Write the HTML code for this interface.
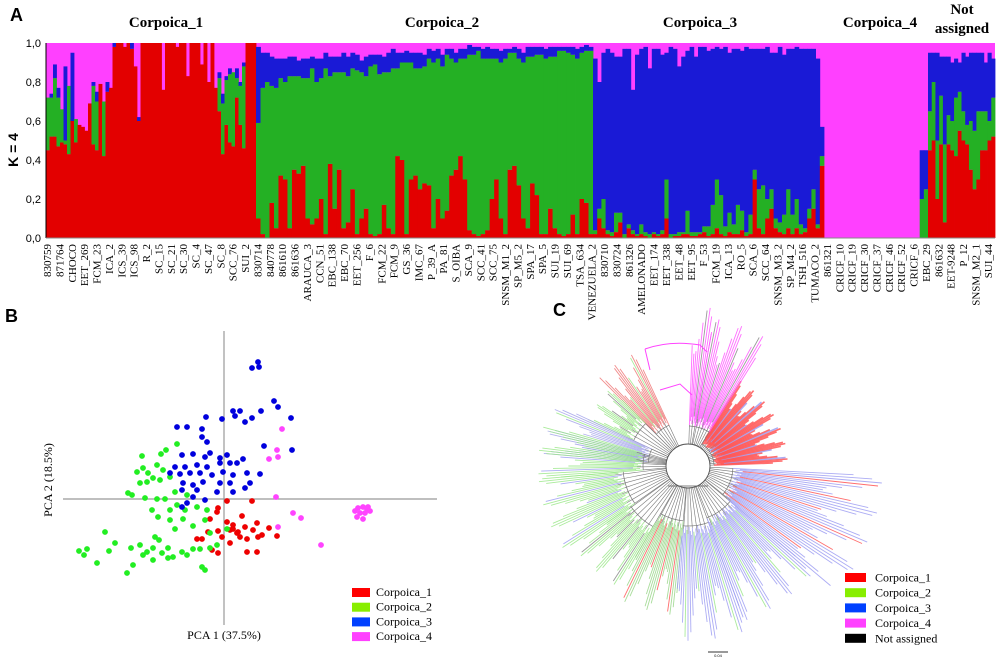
<!DOCTYPE html>
<html><head><meta charset="utf-8"><style>
html,body{margin:0;padding:0;background:#fff;width:1000px;height:662px;overflow:hidden}
svg{display:block}
</style></head><body>
<svg id="fig" width="1000" height="662" viewBox="0 0 1000 662" xmlns="http://www.w3.org/2000/svg">
<g id="panelA"></g>
<g id="panelB"></g>
<g id="panelC"></g>
</svg>
<script>
const NS='http://www.w3.org/2000/svg';
function mk(parent,tag,attrs,text){const e=document.createElementNS(NS,tag);for(const k in attrs)e.setAttribute(k,attrs[k]);if(text!==undefined)e.textContent=text;parent.appendChild(e);return e;}

/* ===== Panel A data ===== */
const groupNames=['Corpoica_1','Corpoica_2','Corpoica_3','Corpoica_4','Not assigned'];
const red1=[.45,.52,.52,.47,.49,.48,.43,.6,.49,.58,.57,.55,.69,.48,.45,.79,.42,.75,.77,.98,1,1,.98,1,.97,.88,.6,1,1,1,1,1,1,.76,1,1,1,.98,1,1,.83,1,1,1,.89,1,.8,1,.77,.65,.43,.58,.49,.47,.72,.58,.46,1,1,1];
const green1=[.27,.2,.3,.25,.17,.02,.35,.0,.12,.0,.0,.0,.0,.3,.25,.0,.28,.0,.0,.0,0,0,0,0,0,0,0,0,0,0,0,0,0,0,0,0,0,0,0,0,0,0,0,0,0,0,0,0,0,.17,.26,.23,.35,.38,.1,.2,.42,0,0,0];
const blue1=[0,.02,.07,.05,0,.38,0,.35,0,0,0,0,0,.02,.05,0,0,.05,0,.02,0,0,0,0,.03,0,.02,0,0,0,0,0,0,0,0,0,0,0,0,0,0,0,0,0,0,0,0,0,0,.03,.05,.02,.03,.0,.05,.02,.02,0,0,0];
const red2=[.1,.02,0,.18,.05,.32,.3,.05,.35,.33,.37,.1,.07,.1,.2,.02,.38,.15,.35,.05,.08,.25,.02,.1,.15,.02,.01,.02,.17,.05,.02,.42,.4,.02,.3,.32,.25,.28,.27,.05,.2,.1,.14,.32,.35,.42,.3,.04,.02,.01,.02,.04,.2,.3,.1,.02,.35,.37,.27,.1,.05,.28,.22,.02,.02,.15,.05,.02,.01,.02,.12,.02,.2,.18,.02];
const green2=[.49,.75,.8,.6,.72,.5,.5,.78,.48,.5,.45,.72,.8,.7,.62,.85,.45,.7,.5,.8,.75,.62,.84,.75,.68,.86,.88,.82,.68,.8,.85,.45,.5,.88,.6,.55,.62,.6,.65,.85,.72,.78,.8,.6,.55,.5,.62,.9,.92,.95,.9,.88,.72,.62,.8,.9,.6,.58,.65,.8,.88,.65,.72,.92,.9,.78,.88,.94,.95,.93,.82,.9,.75,.78,.94];
const blue2=[.39,.18,.15,.15,.15,.1,.12,.1,.1,.08,.1,.1,.06,.12,.1,.08,.1,.08,.08,.1,.1,.08,.08,.06,.1,.06,.05,.1,.08,.1,.1,.08,.05,.06,.05,.08,.08,.06,.05,.06,.05,.06,.03,.05,.05,.05,.05,.05,.04,.02,.05,.06,.05,.05,.06,.05,.02,.03,.05,.05,.05,.05,.04,.04,.05,.05,.05,.02,.02,.03,.04,.05,.03,.03,.02];
const red3=[.02,.1,.05,.02,.01,.03,.08,0,.05,.02,.01,.02,.01,0,.02,.01,.02,.1,0,.01,.01,.02,.02,.01,.01,.02,.03,.01,.02,.05,.02,.01,.03,.02,.02,.04,.01,.02,.3,.05,.02,.1,.15,.05,.03,.02,.05,.02,.05,.02,.03,.1,.15,.05,.37];
const green3=[.02,.05,.15,.02,.02,.1,.05,.02,.02,.02,.01,.05,.02,.02,.01,.01,.02,.2,.02,.01,.02,.01,.12,.02,.02,.01,.03,.05,.15,.25,.2,.05,.1,.05,.15,.1,.02,.1,.05,.2,.25,.1,.1,.05,.05,.1,.2,.1,.15,.05,.02,.05,.1,.02,.05];
const blue3=[.88,.65,.75,.93,.92,.8,.8,.95,.9,.72,.92,.9,.95,.85,.94,.95,.9,.65,.96,.95,.85,.9,.82,.95,.9,.95,.92,.9,.8,.68,.75,.92,.82,.9,.8,.82,.95,.85,.62,.72,.7,.78,.7,.85,.9,.82,.72,.85,.78,.9,.92,.82,.72,.85,.15];
const red4=[0,0,0,0,0,0,0,0,0,0,0,0,0,0,0,0,0,0,0,0,0,0,0,0,0];
const green4=[0,0,0,0,0,0,0,0,0,0,0,0,0,0,0,0,0,0,0,0,0,0,0,.2,.25];
const blue4=[0,0,0,0,0,0,0,0,0,0,0,0,0,0,0,0,0,0,0,0,0,0,0,.25,.2];
const red5=[.45,.5,.2,.48,.08,.48,.45,.42,.55,.5,.48,.35,.25,.3,.45,.45,.5,.52];
const green5=[.2,.3,.3,.25,.4,.15,.15,.3,.2,.15,.1,.25,.3,.35,.2,.2,.1,.2];
const blue5=[.3,.15,.45,.2,.45,.3,.3,.2,.15,.3,.35,.35,.4,.3,.3,.25,.35,.2];
const yTicks=['0,0','0,2','0,4','0,6','0,8','1,0'];
const sampleLabels=['830759','871764','CHOCO','EET_269','FCM_23','ICA_2','ICS_39','ICS_98','R_2','SC_15','SC_21','SC_30','SC_4','SC_47','SC_8','SCC_76','SUI_2','830714','840778','861610','861636','ARAUCA_3','CCN_51','EBC_138','EBC_70','EET_256','F_6','FCM_22','FCM_9','GS_36','IMC_67','P_39_A','PA_81','S_OIBA','SCA_9','SCC_41','SCC_75','SNSM_M1_2','SP_M5_2','SPA_17','SPA_5','SUI_19','SUI_69','TSA_634','VENEZUELA_2','830710','830724','861326','AMELONADO','EET_174','EET_338','EET_48','EET_95','F_53','FCM_19','ICA_13','RO_5','SCA_6','SCC_64','SNSM_M3_2','SP_M4_2','TSH_516','TUMACO_2','861321','CRICF_10','CRICF_19','CRICF_30','CRICF_37','CRICF_46','CRICF_52','CRICF_6','EBC_29','861632','EET-9248','P_12','SNSM_M2_1','SUI_44'];

/* ===== Panel B data (PCA scores) ===== */
const pcaGroups=['Corpoica_1','Corpoica_2','Corpoica_3','Corpoica_4'];
const pc1_g1=[0.3,2.8,-0.6,-0.7,1.8,-1.4,0.3,0.9,2.1,3.3,2.9,4.5,5.3,-1.6,-0.6,0.6,1.3,2.3,3.8,-2.7,-2.2,-0.2,0.6,1.6,3.4,-1.2,-0.6,2.3,3.3,0.9,1.4];
const pc2_g1=[-0.2,-0.2,-0.9,-1.3,-1.7,-2.0,-2.3,-2.6,-2.8,-2.4,-3.1,-2.9,-3.7,-3.3,-3.2,-3.1,-3.4,-4.0,-3.6,-4.0,-4.0,-3.8,-4.4,-3.8,-3.8,-5.1,-5.4,-5.3,-5.3,-3.0,-3.3];
const pc1_g2=[-8.2,-6.3,-5.8,-4.7,-8.7,-8.1,-7.6,-6.7,-6.1,-7.1,-6.4,-5.4,-8.4,-7.7,-9.6,-9.2,-7.9,-6.7,-5.9,-4.9,-3.7,-7.2,-6.6,-5.4,-4.7,-3.9,-2.7,-1.7,-5.4,-4.1,-3.1,-1.9,-4.9,-1.4,-11.9,-10.9,-14.5,-13.7,-14.0,-11.5,-12.7,-9.3,-8.4,-7.7,-6.9,-6.5,-7.1,-6.2,-5.6,-5.1,-4.2,-3.7,-3.1,-2.4,-1.4,-0.7,-9.7,-9.1,-8.1,-7.1,-5.6,-2.2,-1.9,0.3];
const pc2_g2=[4.3,4.5,4.9,5.5,2.7,3.1,2.6,3.4,2.9,2.1,1.9,2.2,1.6,1.7,0.6,0.4,0.1,0,0,0.7,0.4,-1.1,-1.8,-1.1,-0.6,-1.1,-0.8,-1.1,-2.1,-2.0,-2.7,-2.1,-3.0,-3.4,-3.3,-4.4,-5.2,-5.0,-5.6,-5.2,-6.4,-4.9,-4.6,-5.3,-3.8,-4.1,-4.9,-5.4,-4.9,-5.8,-5.3,-5.6,-5.0,-5.0,-4.9,-4.6,-7.4,-6.6,-5.6,-6.1,-5.9,-6.8,-7.1,-3.0];
const pc1_g3=[3.4,2.8,3.5,5.0,5.4,0.9,1.6,1.1,3.7,-0.2,-1.8,2.1,2.8,6.7,-4.7,-3.7,-2.2,-2.2,-1.7,4.0,6.8,-4.2,-3.1,-1.4,0.3,-1.9,-0.4,1.9,1.3,-4.9,-3.9,-2.7,-1.7,-0.4,0.6,-5.4,-4.4,-3.4,-2.4,-1.2,-0.1,0.9,2.3,3.6,-4.1,-3.1,-2.1,-0.4,0.6,2.6,-4.2,-2.7,-0.7,0.9,2.1,-3.1,-1.9,-3.7,-4.2];
const pc2_g3=[13.7,13.1,13.2,9.8,9.2,8.8,8.8,8.3,8.8,8.0,8.2,7.7,8.1,8.1,7.2,7.2,7.0,6.2,5.7,5.3,4.9,4.4,4.5,4.6,4.4,4.2,4.1,4.0,3.6,3.2,3.2,3.4,3.2,3.6,3.6,2.6,2.5,2.6,2.6,2.4,2.7,2.4,2.6,2.5,1.6,1.4,1.7,1.6,1.6,1.6,0.9,0.9,0.7,0.7,1.1,0.2,-0.1,-0.4,-0.8];
const pc1_g4=[5.8,5.3,5.4,4.5,5.2,6.9,7.7,5.4,9.7,13.1,13.4,13.9,14.3,14.6,13.6,14.1,13.3,13.9,14.4];
const pc2_g4=[7.0,4.9,4.2,4.0,0.2,-1.4,-1.9,-2.8,-4.6,-1.2,-0.9,-0.8,-1.0,-1.2,-1.4,-1.4,-1.8,-2.0,-0.8];

/* ===== Panel C data (tree clades: angle range in degrees, leaf length) ===== */
const cladeStart=[-2,-58,-80,-115,-135,-155,-185,145,120,95,70,40,3];
const cladeEnd=[-58,-80,-88,-135,-155,-175,-165,175,145,120,95,70,40];
const cladeLen=[100,150,160,125,110,145,150,150,140,150,175,165,195];
const cladeMain=['red','pink','pink','mixR','green','mixB','green','green','green','mixG','blue','blue','blue'];
const cladeAccent=['blue','gray','gray','green','gray','green','blue','blue','gray','red','green','green','red'];
const legendC=['Corpoica_1','Corpoica_2','Corpoica_3','Corpoica_4','Not assigned'];

/* ===== Draw A ===== */
const A=document.getElementById('panelA');
const C={red:'#e30000',green:'#24b024',blue:'#1a1ad6',pink:'#ff40ff'};
const plotL=46,plotR=995,plotT=43,plotB=238;
const yA=v=>plotB-v*(plotB-plotT);
let t=mk(A,'text',{x:10,y:21,'font-family':'Liberation Sans, sans-serif','font-weight':'bold','font-size':18},'A');

const groupEdges=[46,256,593,824,928,995];
const groupData=[[red1,green1,blue1],[red2,green2,blue2],[red3,green3,blue3],[red4,green4,blue4],[red5,green5,blue5]];
mk(A,'rect',{x:plotL,y:plotT,width:plotR-plotL,height:plotB-plotT,fill:C.pink});
groupData.forEach((g,gi)=>{
  const n=g[0].length,w=(groupEdges[gi+1]-groupEdges[gi])/n;
  const grp=mk(A,'g',{});
  
  
  for(let i=0;i<n;i++){
    const x=groupEdges[gi]+i*w;let cum=0;
    [['red',g[0][i]],['green',g[1][i]],['blue',g[2][i]]].forEach(([c,v])=>{
      v=v||0;if(v<=0)return;
      const y0=yA(cum),y1=yA(Math.min(1,cum+v));cum+=v;
      const r=mk(grp,'rect',{x:x.toFixed(2),y:y1.toFixed(2),width:(w+0.4).toFixed(2),height:(y0-y1).toFixed(2),fill:C[c]});
      
    });
  }
});
mk(A,'line',{x1:plotL,y1:plotT,x2:plotL,y2:plotB,stroke:'#000','stroke-width':1});
mk(A,'line',{x1:plotL,y1:plotB,x2:plotR,y2:plotB,stroke:'#888','stroke-width':1});
yTicks.forEach((lab,i)=>{const v=i/(yTicks.length-1);
  const e=mk(A,'text',{x:41,y:yA(v)+4,'text-anchor':'end','font-family':'Liberation Sans, sans-serif','font-size':11},lab);
  });
t=mk(A,'text',{transform:'translate(18,150) rotate(-90)','text-anchor':'middle','font-family':'Liberation Sans, sans-serif','font-weight':'bold','font-size':14},'K = 4');

const titleX=[166,442,700,880,962];
groupNames.forEach((nm,i)=>{
  if(nm==='Not assigned'){
    const e=mk(A,'text',{x:titleX[i],y:14,'text-anchor':'middle','font-family':'Liberation Serif, serif','font-weight':'bold','font-size':15});
    mk(e,'tspan',{x:titleX[i],dy:0},'Not');mk(e,'tspan',{x:titleX[i],dy:19},'assigned');
    
  } else {
    const e=mk(A,'text',{x:titleX[i],y:27,'text-anchor':'middle','font-family':'Liberation Serif, serif','font-weight':'bold','font-size':15},nm);
    
  }
});
sampleLabels.forEach((lab,i)=>{const x=47+i*12.38+4;
  const e=mk(A,'text',{transform:`translate(${x.toFixed(1)},244) rotate(-90)`,'text-anchor':'end','font-family':'Liberation Serif, serif','font-size':11},lab);
  });

/* ===== Draw B ===== */
const B=document.getElementById('panelB');
const ox=224,oy=499,sc=10;
const xB=v=>ox+v*sc,yB=v=>oy-v*sc;
t=mk(B,'text',{x:5,y:322,'font-family':'Liberation Sans, sans-serif','font-weight':'bold','font-size':18},'B');

let l=mk(B,'line',{x1:63,y1:oy,x2:437,y2:oy,stroke:'#999','stroke-width':1.2});

l=mk(B,'line',{x1:ox,y1:331,x2:ox,y2:625,stroke:'#999','stroke-width':1.2});

const pcaCol=['#ee0000','#22ee22','#0000dd','#ff44ff'];
[[pc1_g1,pc2_g1],[pc1_g2,pc2_g2],[pc1_g3,pc2_g3],[pc1_g4,pc2_g4]].forEach((s,gi)=>{
  s[0].forEach((v,i)=>{const c=mk(B,'circle',{cx:xB(v).toFixed(1),cy:yB(s[1][i]).toFixed(1),r:2.9,fill:pcaCol[gi]});
    });
});
t=mk(B,'text',{x:224,y:639,'text-anchor':'middle','font-family':'Liberation Serif, serif','font-size':12},'PCA 1  (37.5%)');

t=mk(B,'text',{transform:'translate(52,480) rotate(-90)','text-anchor':'middle','font-family':'Liberation Serif, serif','font-size':12},'PCA 2 (18.5%)');

const legColB=['#ff0000','#88ee00','#0040ff','#ff40ff'];
pcaGroups.forEach((nm,i)=>{const y=588+i*14.7;
  const r=mk(B,'rect',{x:352,y:y,width:18,height:9,fill:legColB[i]});
  const e=mk(B,'text',{x:376,y:y+8,'font-family':'Liberation Serif, serif','font-size':12},nm);});

/* ===== Draw C ===== */
const Cg=document.getElementById('panelC');
const cx=688,cy=466,r0=22;
const innerR=[26,40,40,45,60,40,45,65,70,55,60,55,45];
t=mk(Cg,'text',{x:553,y:316,'font-family':'Liberation Sans, sans-serif','font-weight':'bold','font-size':18},'C');

const TC={red:'#ff5555',pink:'#ff55ff',green:'#9be88a',blue:'#9d9df2',gray:'#888',mixR:'#ee7777',mixG:'#99d688',mixB:'#a4a4ea'};
const pol=(a,r)=>[cx+r*Math.cos(a*Math.PI/180),cy+r*Math.sin(a*Math.PI/180)];
cladeStart.forEach((s,ci)=>{
  const e=cladeEnd[ci],n=Math.max(4,Math.round(Math.abs(e-s)/1.0)),len=cladeLen[ci],ri=innerR[ci];
  const g=mk(Cg,'g',{});
  for(let k=0;k<=n;k++){
    const a=s+(e-s)*k/n;
    const col=(k%6===3)?TC[cladeAccent[ci]]:TC[cladeMain[ci]];
    const rl=len*(0.85+0.15*Math.sin(k*0.7));
    const rs=ri+((k*7)%11);
    const p1=pol(a,rs),p2=pol(a,rl);
    mk(g,'line',{x1:p1[0].toFixed(1),y1:p1[1].toFixed(1),x2:p2[0].toFixed(1),y2:p2[1].toFixed(1),stroke:col,'stroke-width':ci===0?1.6:0.9,'stroke-opacity':0.85});
    if(k%4===0){const q1=pol(a,r0),q2=pol(a,rs);
      mk(g,'line',{x1:q1[0].toFixed(1),y1:q1[1].toFixed(1),x2:q2[0].toFixed(1),y2:q2[1].toFixed(1),stroke:'#777','stroke-width':0.6});}
  }
  const a0=pol(s,ri),a1=pol(e,ri);
  mk(g,'path',{d:`M${a0[0].toFixed(1)},${a0[1].toFixed(1)} A${ri},${ri} 0 0 ${e>s?1:0} ${a1[0].toFixed(1)},${a1[1].toFixed(1)}`,fill:'none',stroke:'#777','stroke-width':0.7});
});
mk(Cg,'circle',{cx:cx,cy:cy,r:r0,fill:'none',stroke:'#555','stroke-width':0.9});
mk(Cg,'line',{x1:cx-20,y1:cy+20,x2:cx+20,y2:cy+20,stroke:'#555','stroke-width':0.8});
mk(Cg,'path',{d:'M645,349 Q670,340 700,345 L707,352 M645,349 L650,370 M660,390 L680,384 L692,395',fill:'none',stroke:'#ff44ff','stroke-width':1});
mk(Cg,'line',{x1:708,y1:652,x2:728,y2:652,stroke:'#333','stroke-width':1});
mk(Cg,'text',{x:718,y:657,'text-anchor':'middle','font-size':4,'font-family':'Liberation Sans, sans-serif'},'0.04');
const legColC=['#ff0000','#88ee00','#0040ff','#ff40ff','#000000'];
legendC.forEach((nm,i)=>{const y=573+i*15.2;
  const r=mk(Cg,'rect',{x:845,y:y,width:21,height:9,fill:legColC[i]});
  const e=mk(Cg,'text',{x:875,y:y+8.5,'font-family':'Liberation Serif, serif','font-size':12},nm);});
</script>
</body></html>
